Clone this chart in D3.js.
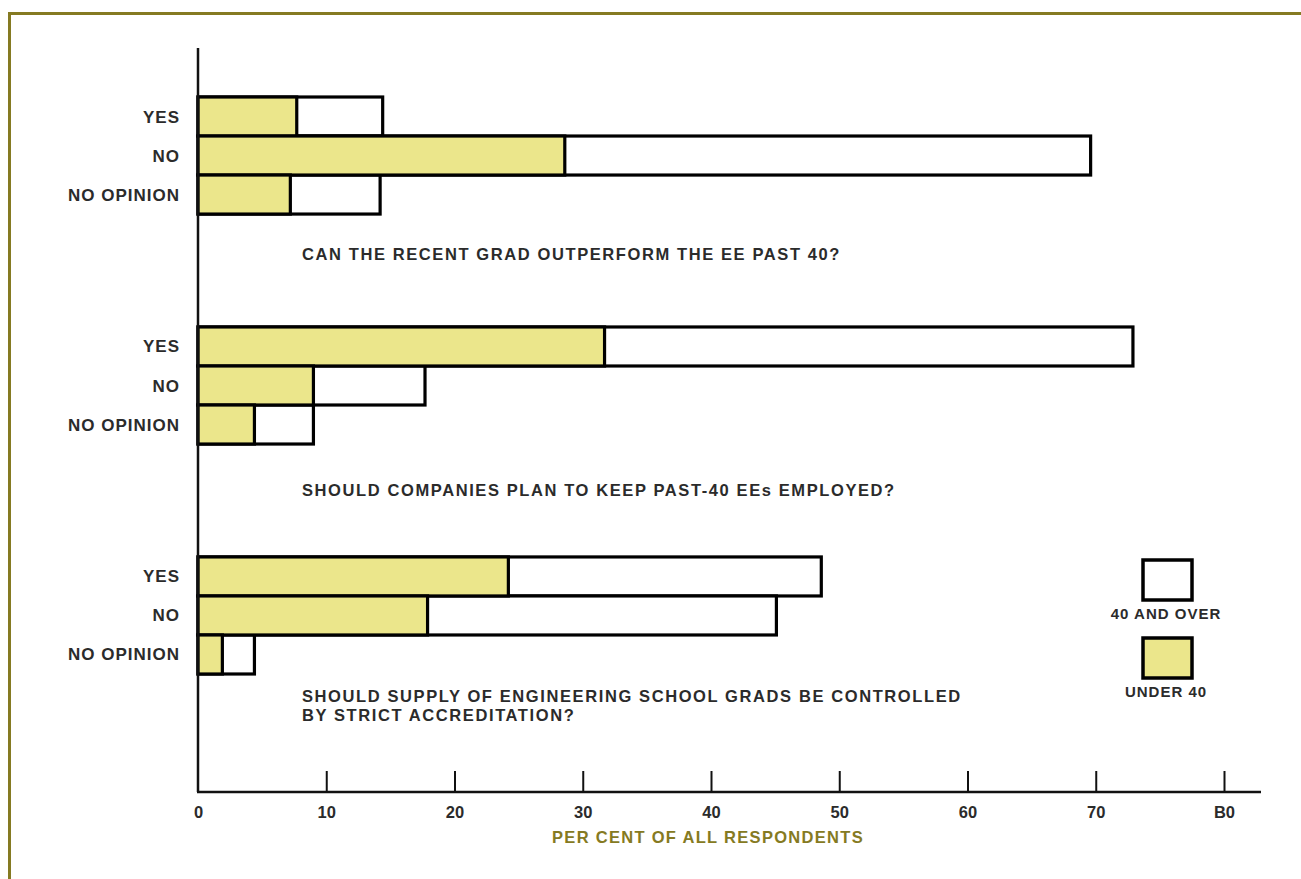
<!DOCTYPE html>
<html><head><meta charset="utf-8">
<script src="https://cdn.jsdelivr.net/npm/d3@7"></script>
<style>html,body{margin:0;padding:0;background:#fff;}svg{display:block;}</style>
</head><body>
<script>
const questions = [
  ["CAN THE RECENT GRAD OUTPERFORM THE EE PAST 40?"],
  ["SHOULD COMPANIES PLAN TO KEEP PAST-40 EEs EMPLOYED?"],
  ["SHOULD SUPPLY OF ENGINEERING SCHOOL GRADS BE CONTROLLED", "BY STRICT ACCREDITATION?"]
];
const answers = ["YES", "NO", "NO OPINION"];
const under40 = [[7.7, 28.6, 7.2], [31.7, 9.0, 4.4], [24.2, 17.9, 1.9]];
const total = [[14.4, 69.6, 14.2], [72.9, 17.7, 9.0], [48.6, 45.1, 4.4]];
const tickValues = [0, 10, 20, 30, 40, 50, 60, 70, 80];
const tickLabels = ["0", "10", "20", "30", "40", "50", "60", "70", "B0"];
const legendLabels = ["40 AND OVER", "UNDER 40"];

const W = 1301, H = 879;
const YELLOW = "#ebe68b", OLIVE = "#857a22", INK = "#2b2b2b";
const svg = d3.select("body").append("svg").attr("width", W).attr("height", H);
const font = "'Liberation Sans', Arial, sans-serif";

// frame
svg.append("path").attr("d", "M9.5,879 L9.5,13.5 L1301,13.5").attr("fill", "none")
  .attr("stroke", OLIVE).attr("stroke-width", 3);

const x = d3.scaleLinear().domain([0, 80]).range([198, 1224]);
const gIdx = d3.range(questions.length);
const yg = d3.scaleBand().domain(gIdx).range([97, 674]).paddingInner(0.491).paddingOuter(0);
const yr = d3.scaleBand().domain(answers).range([0, yg.bandwidth()]).padding(0);

const rows = [];
gIdx.forEach(g => answers.forEach((a, i) => rows.push({g, a, u: under40[g][i], t: total[g][i]})));

const bars = svg.append("g");
bars.selectAll("rect.tot").data(rows).join("rect")
  .attr("x", x(0)).attr("y", d => yg(d.g) + yr(d.a))
  .attr("width", d => x(d.t) - x(0)).attr("height", yr.bandwidth())
  .attr("fill", "#fff").attr("stroke", "#000").attr("stroke-width", 3.2);
bars.selectAll("rect.und").data(rows).join("rect")
  .attr("x", x(0)).attr("y", d => yg(d.g) + yr(d.a))
  .attr("width", d => x(d.u) - x(0)).attr("height", yr.bandwidth())
  .attr("fill", YELLOW).attr("stroke", "#000").attr("stroke-width", 3.2);

// category labels
svg.append("g").selectAll("text").data(rows).join("text")
  .attr("x", 180).attr("y", d => yg(d.g) + yr(d.a) + yr.bandwidth() / 2 + 6)
  .attr("text-anchor", "end").attr("font-family", font).attr("font-size", 17)
  .attr("font-weight", "bold").attr("fill", INK).attr("letter-spacing", 1)
  .text(d => d.a);

// question texts
const qOff = [[163], [169], [145, 164]];
const qg = svg.append("g");
questions.forEach((lines, g) => {
  lines.forEach((ln, j) => {
    qg.append("text").attr("x", 302).attr("y", yg(g) + qOff[g][j])
      .attr("font-family", font).attr("font-size", 16.5).attr("font-weight", "bold")
      .attr("fill", INK).attr("letter-spacing", 1.6).text(ln);
  });
});

// axes
svg.append("line").attr("x1", 198).attr("x2", 198).attr("y1", 48).attr("y2", 792)
  .attr("stroke", "#111").attr("stroke-width", 2.5);
const xAxis = d3.axisTop(x).tickValues(tickValues).tickSize(21)
  .tickFormat((d, i) => tickLabels[i]);
const ax = svg.append("g").attr("transform", "translate(0,792)").call(xAxis);
ax.select(".domain").remove();
ax.selectAll(".tick line").attr("stroke", "#111").attr("stroke-width", 2);
ax.selectAll(".tick").filter(d => d === 0).select("line").remove();
ax.selectAll(".tick text").attr("y", 26).attr("dy", 0).attr("font-family", font)
  .attr("font-size", 16.5).attr("font-weight", "bold").attr("fill", INK);
svg.append("line").attr("x1", 197).attr("x2", 1261).attr("y1", 792).attr("y2", 792)
  .attr("stroke", "#111").attr("stroke-width", 2.5);
svg.append("text").attr("x", 708).attr("y", 843).attr("text-anchor", "middle")
  .attr("font-family", font).attr("font-size", 16.5).attr("font-weight", "bold")
  .attr("fill", OLIVE).attr("letter-spacing", 1.3).text("PER CENT OF ALL RESPONDENTS");

// legend
const lg = svg.append("g");
const legFill = ["#fff", YELLOW];
const legY = [560, 638];
legendLabels.forEach((l, i) => {
  lg.append("rect").attr("x", 1143).attr("y", legY[i]).attr("width", 49).attr("height", 40)
    .attr("fill", legFill[i]).attr("stroke", "#000").attr("stroke-width", 3.5);
  lg.append("text").attr("x", 1166).attr("y", legY[i] + 59).attr("text-anchor", "middle")
    .attr("font-family", font).attr("font-size", 15).attr("font-weight", "bold")
    .attr("fill", INK).attr("letter-spacing", 1).text(l);
});
</script>
</body></html>
